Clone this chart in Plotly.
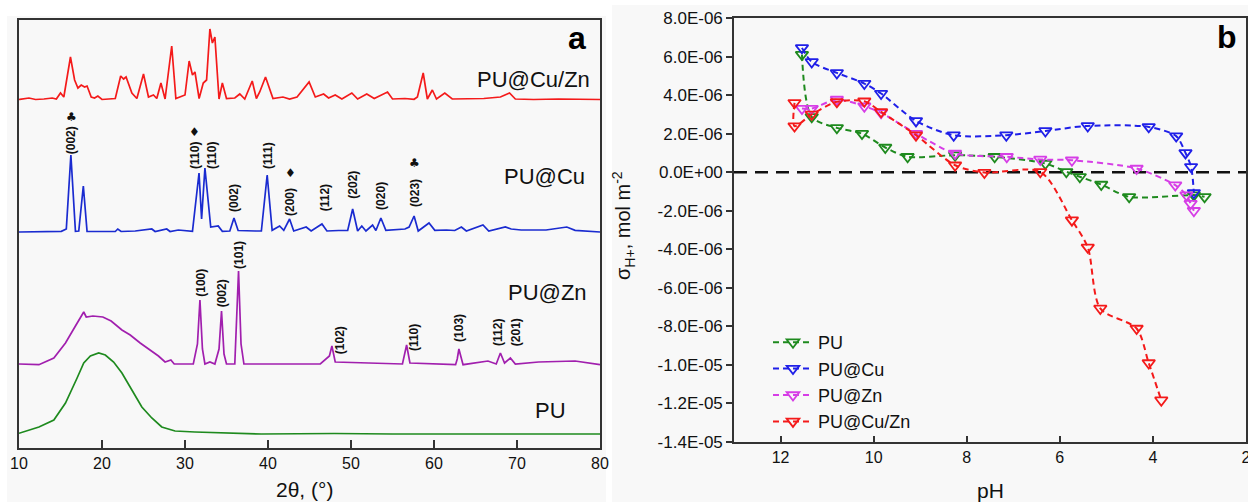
import plotly.graph_objects as go

W, H = 1248, 502
FONT = "Liberation Sans"

# ---------------- Panel a : XRD patterns (heights above each baseline, a.u.) ----------------
cuzn_tt = [10.0, 10.1, 11.2, 12.0, 13.0, 14.0, 14.5, 15.0, 15.4, 16.2, 16.7, 17.1, 17.5, 17.9, 18.2, 18.7, 19.1, 19.5,
           20.0, 21.0, 21.6, 22.25, 22.6, 22.9, 23.6, 24.2, 25.0, 25.6, 26.2, 26.6, 27.1, 27.6, 28.4, 28.9, 29.5,
           30.0, 30.5, 30.9, 31.2, 31.7, 32.2, 32.6, 33.0, 33.3, 33.6, 34.1, 34.5, 35.0, 36.0, 36.6, 37.2, 38.1,
           38.6, 39.0, 39.7, 40.6, 41.8, 42.6, 43.5, 43.9, 44.95, 45.7, 46.7, 47.3, 48.1, 48.9, 50.1, 50.8, 51.9,
           52.8, 54.4, 55.0, 56.5, 57.6, 58.0, 58.7, 59.2, 59.8, 60.3, 61.3, 62.2, 66.0, 68.0, 69.1, 69.8, 72.0,
           75.0, 80.0]
cuzn_h = [0.5, 0.7, 2, 0.5, 1, 2, 1, 7, 3, 43, 20, 12, 15, 13, 14, 3, 2, 4,
          0.5, 1, 1.5, 24, 21, 23, 7, 1.5, 26, 3, 5, 1.5, 17, 1, 54, 1.5, 3,
          5, 39, 25, 28, 1.5, 17, 20, 71, 57, 63, 1, 17, 1.5, 2, 6, 1, 19,
          1.5, 8, 23, 1.5, 3, 1, 3, 7, 18, 3, 6, 2, 5, 1, 7, 1, 6,
          1.5, 8, 1, 1.5, 0.7, 3, 27, 1, 10, 1, 7, 1, 1.5, 3, 7, 1, 0.5,
          1, 0.5]

cu_tt = [10, 12, 15.1, 15.7, 16.25, 16.8, 17.2, 17.75, 18.2, 20, 21.6, 21.9, 22.3, 24, 26.0, 26.4, 27.8, 28.2, 29.2,
         30.9, 31.69, 32.0, 32.4, 33.1, 34.0, 34.5, 35.4, 35.9, 36.4, 38.5, 39.2, 39.9, 40.5, 41.4, 41.9, 42.6,
         43.1, 44.6, 45.2, 46.5, 47.1, 48.5, 49.6, 50.2, 50.8, 51.3, 51.8, 52.6, 53.0, 53.6, 54.2, 56.5, 57.0,
         57.6, 58.1, 59.4, 60.1, 61.5, 62.5, 63.3, 63.9, 65.9, 66.6, 68.6, 69.3, 70.5, 72.5, 73.5, 76.0, 77.0, 80]
cu_h = [0, 0.5, 0.7, 3, 77, 0.7, 1, 46, 0.7, 0.5, 0.5, 3, 0.5, 1, 3, 0.5, 3, 0.5, 2,
        0.7, 59, 13, 64, 5, 6, 0.7, 1, 14, 1.5, 1, 1, 57, 1.7, 6, 1.7, 13,
        1, 5, 1, 8, 1, 1.5, 1.5, 23, 1, 6, 1, 7, 1.5, 14, 1.7, 3, 5,
        16, 1, 9, 1.7, 2, 1.5, 5, 1, 7, 1, 5, 3, 2, 1.5, 2, 5, 1.7, 0]

zn_tt = [10, 12.4, 14.2, 15.6, 16.8, 17.5, 17.8, 18.1, 18.9, 20.1, 21.1, 22.4, 23.4, 24.6, 25.8, 26.8, 27.6, 28.3,
         28.7, 31.0, 31.5, 31.8, 32.1, 32.4, 33.0, 33.6, 34.1, 34.4, 34.7, 35.0, 36.0, 36.15, 36.45, 36.75, 37.1,
         46.3, 47.4, 47.7, 48.1, 56.2, 56.4, 56.7, 57.1, 62.6, 62.8, 63.0, 63.5, 66.5, 67.5, 68.0, 68.5, 69.2,
         69.8, 72.6, 77.0, 80]
zn_h = [0, -0.7, 6, 21, 38, 48, 52, 47, 48, 47, 43, 34, 29, 21, 14, 8, 2, 4,
        0, 0, 20, 64, 15, 0, 2, 0, 15, 53, 10, 0, 0, 30, 93, 20, 0,
        0, 8, 18, 2, 0, 8, 19, 1, -0.7, 5, 15, -0.7, 3, 0, 11, 1, 6,
        0, 2, 3, -0.7]

pu_tt = [10, 12.4, 14.2, 15.6, 17.0, 17.8, 18.6, 19.6, 20.4, 21.4, 22.4, 23.6, 24.8, 26.0, 27.2, 28.8, 31.2,
         39.2, 48, 55, 80]
pu_h = [0.7, 7, 14, 31, 56, 71, 78, 81, 79, 72, 61, 44, 27, 16, 7, 3, 2,
        0, 0.5, 0, 0]

xrd_names = ["PU@Cu/Zn", "PU@Cu", "PU@Zn", "PU"]
xrd_offsets = [348, 216, 84, 14]
xrd_colors = ["#f41a1a", "#1a2bd0", "#a11fae", "#1e8a1e"]
xrd_label_tt = [72.0, 73.3, 73.7, 74.0]
xrd_label_y = [368, 271, 156, 38]

# Miller index labels (2theta of label, height on axis)
hkl_text = ["(002)", "(110)", "(110)", "(002)", "(111)", "(200)", "(112)", "(202)", "(020)", "(023)",
            "(100)", "(002)", "(101)", "(102)", "(110)", "(103)", "(112)", "(201)"]
hkl_tt = [16.3, 31.2, 33.25, 35.9, 40.0, 42.65, 46.9, 50.2, 53.6, 57.7,
          31.9, 34.5, 36.5, 48.7, 57.6, 63.0, 67.7, 69.9]
hkl_y = [308, 293, 293, 250, 292, 246, 250, 263, 252, 255,
         165, 155, 193, 108, 110, 120, 116, 116]
sym_text = ["♣", "♦", "♦", "♣"]
sym_tt = [16.3, 31.2, 42.65, 57.7]
sym_y = [331, 316, 275, 285]

# ---------------- Panel b : surface charge vs pH ----------------
pu_ph = [11.54, 11.33, 10.79, 10.25, 9.75, 9.27, 8.25, 7.40, 6.31, 5.86, 5.57, 5.11, 4.51, 3.12, 2.89]
pu_sig = [6.1e-6, 2.87e-6, 2.30e-6, 2.0e-6, 1.28e-6, 0.8e-6, 0.88e-6, 0.8e-6, 0.45e-6, 0.02e-6, -0.24e-6,
          -0.64e-6, -1.28e-6, -1.19e-6, -1.28e-6]
cu_ph = [11.54, 11.33, 10.79, 10.2, 9.84, 9.09, 8.28, 7.15, 6.31, 5.40, 4.09, 3.50, 3.30, 3.18, 3.12]
cu_sig = [6.45e-6, 5.72e-6, 5.15e-6, 4.6e-6, 4.08e-6, 2.66e-6, 1.92e-6, 1.92e-6, 2.14e-6, 2.40e-6, 2.35e-6,
          1.87e-6, 1.0e-6, 0.28e-6, -1.07e-6]
zn_ph = [11.54, 11.33, 10.79, 10.2, 9.84, 9.09, 8.25, 7.14, 6.42, 5.74, 4.35, 3.52, 3.28, 3.19, 3.12]
zn_sig = [3.3e-6, 3.3e-6, 3.77e-6, 3.42e-6, 3.08e-6, 2.0e-6, 0.97e-6, 0.8e-6, 0.66e-6, 0.62e-6, 0.19e-6,
          -0.67e-6, -1.19e-6, -1.63e-6, -2.0e-6]
cuzn_ph = [11.70, 11.70, 11.33, 10.79, 10.2, 9.84, 9.09, 8.25, 7.62, 6.42, 5.74, 5.40, 5.13, 4.35, 4.09, 3.82]
cuzn_sig = [3.6e-6, 2.39e-6, 3.0e-6, 3.65e-6, 3.68e-6, 3.13e-6, 1.92e-6, 0.36e-6, -0.02e-6, 0.02e-6, -2.49e-6,
            -3.9e-6, -7.07e-6, -8.11e-6, -9.9e-6, -11.83e-6]

b_names = ["PU", "PU@Cu", "PU@Zn", "PU@Cu/Zn"]
b_colors = ["#1e8a1e", "#1f1fe8", "#d63ee6", "#f41a1a"]
b_x = [pu_ph, cu_ph, zn_ph, cuzn_ph]
b_y = [pu_sig, cu_sig, zn_sig, cuzn_sig]

b_yticks = [8e-6, 6e-6, 4e-6, 2e-6, 0.0, -2e-6, -4e-6, -6e-6, -8e-6, -1e-5, -1.2e-5, -1.4e-5]
b_xticks = [12, 10, 8, 6, 4, 2]
a_xticks = [10, 20, 30, 40, 50, 60, 70, 80]

# ---------------- build figure ----------------
def px_x(p):
    return p / W

def px_y(p):
    return 1 - p / H

fig = go.Figure()

xrd_t = [cuzn_tt, cu_tt, zn_tt, pu_tt]
xrd_hs = [cuzn_h, cu_h, zn_h, pu_h]
for name, tt, hh, off, col in zip(xrd_names, xrd_t, xrd_hs, xrd_offsets, xrd_colors):
    fig.add_trace(go.Scatter(x=tt, y=[v + off for v in hh], mode="lines", name=name,
                             line=dict(color=col, width=1.7), showlegend=False,
                             xaxis="x", yaxis="y"))

for name, xs, ys, col in zip(b_names, b_x, b_y, b_colors):
    fig.add_trace(go.Scatter(x=xs, y=ys, mode="lines+markers", name=name,
                             line=dict(color=col, width=2, dash="6px,4px", shape="spline", smoothing=0.8),
                             marker=dict(symbol="triangle-down-open", size=11, color=col,
                                         line=dict(width=1.8, color=col)),
                             xaxis="x2", yaxis="y2"))

C = dict(xanchor="center", yanchor="middle", showarrow=False)
annotations = []
for name, tx, ty in zip(xrd_names, xrd_label_tt, xrd_label_y):
    annotations.append(dict(x=tx, y=ty, xref="x", yref="y", text=name,
                            font=dict(family=FONT, size=22, color="#111"), **C))
for t, tx, ty in zip(hkl_text, hkl_tt, hkl_y):
    annotations.append(dict(x=tx, y=ty, xref="x", yref="y", text="<b>" + t + "</b>",
                            textangle=-90, font=dict(family=FONT, size=12, color="#111"), **C))
for t, tx, ty in zip(sym_text, sym_tt, sym_y):
    annotations.append(dict(x=tx, y=ty, xref="x", yref="y", text=t,
                            font=dict(family="DejaVu Sans", size=12, color="#111"), **C))

annotations += [
    dict(x=px_x(577), y=px_y(38), xref="paper", yref="paper", text="<b>a</b>",
         font=dict(family=FONT, size=32, color="#000"), **C),
    dict(x=px_x(1227), y=px_y(37), xref="paper", yref="paper", text="<b>b</b>",
         font=dict(family=FONT, size=32, color="#000"), **C),
    dict(x=px_x(304), y=px_y(489), xref="paper", yref="paper", text="2θ, (°)",
         font=dict(family=FONT, size=21, color="#111"), **C),
    dict(x=px_x(990), y=px_y(490), xref="paper", yref="paper", text="pH",
         font=dict(family=FONT, size=21, color="#111"), **C),
    dict(x=px_x(623), y=px_y(226), xref="paper", yref="paper", textangle=-90,
         text="σ<sub>H+</sub>, mol m<sup>-2</sup>",
         font=dict(family=FONT, size=20, color="#111"), **C),
]

shapes = [
    dict(type="rect", xref="paper", yref="paper", x0=px_x(7), x1=px_x(606), y0=0, y1=px_y(16),
         fillcolor="#f8f8f8", line=dict(width=0), layer="below"),
    dict(type="rect", xref="paper", yref="paper", x0=px_x(612), x1=1, y0=0, y1=px_y(5),
         fillcolor="#f8f8f8", line=dict(width=0), layer="below"),
    dict(type="line", xref="x2 domain", yref="y2", x0=0, x1=1, y0=0, y1=0,
         line=dict(color="#111", width=2.5, dash="13px,8px"), layer="below"),
]

axis_line = dict(showline=True, linecolor="#333", linewidth=1.6, mirror=True, showgrid=False, zeroline=False)

fig.update_layout(
    width=W, height=H,
    margin=dict(l=0, r=0, t=0, b=0),
    paper_bgcolor="white", plot_bgcolor="#fafafa",
    font=dict(family=FONT, color="#111"),
    xaxis=dict(domain=[px_x(19), px_x(600)], range=[10, 80], tickvals=a_xticks,
               ticks="inside", ticklen=8, tickwidth=1.5, tickcolor="#333",
               tickfont=dict(family=FONT, size=16, color="#111"), anchor="y", automargin=False,
               ticklabeloverflow="allow", **axis_line),
    yaxis=dict(domain=[px_y(448), px_y(20)], range=[0, 428], showticklabels=False, ticks="",
               anchor="x", automargin=False, **axis_line),
    xaxis2=dict(domain=[px_x(734), px_x(1246)], range=[13, 2], tickvals=b_xticks,
                ticks="inside", ticklen=6, tickwidth=1.5, tickcolor="#333",
                tickfont=dict(family=FONT, size=16, color="#111"), anchor="y2", automargin=False,
                ticklabeloverflow="allow", **axis_line),
    yaxis2=dict(domain=[px_y(442), px_y(18)], range=[-1.4e-5, 8e-6], tickvals=b_yticks,
                ticktext=["{:.1E}".format(v) for v in b_yticks],
                ticks="outside", ticklen=6, tickwidth=1.5, tickcolor="#333",
                tickfont=dict(family=FONT, size=17, color="#111"), anchor="x2", automargin=False, **axis_line),
    legend=dict(x=px_x(768), y=px_y(324), xanchor="left", yanchor="top", bgcolor="rgba(0,0,0,0)",
                font=dict(family=FONT, size=18, color="#111"), tracegroupgap=0, itemwidth=40),
    annotations=annotations,
    shapes=shapes,
)

fig.write_html("out.html")
